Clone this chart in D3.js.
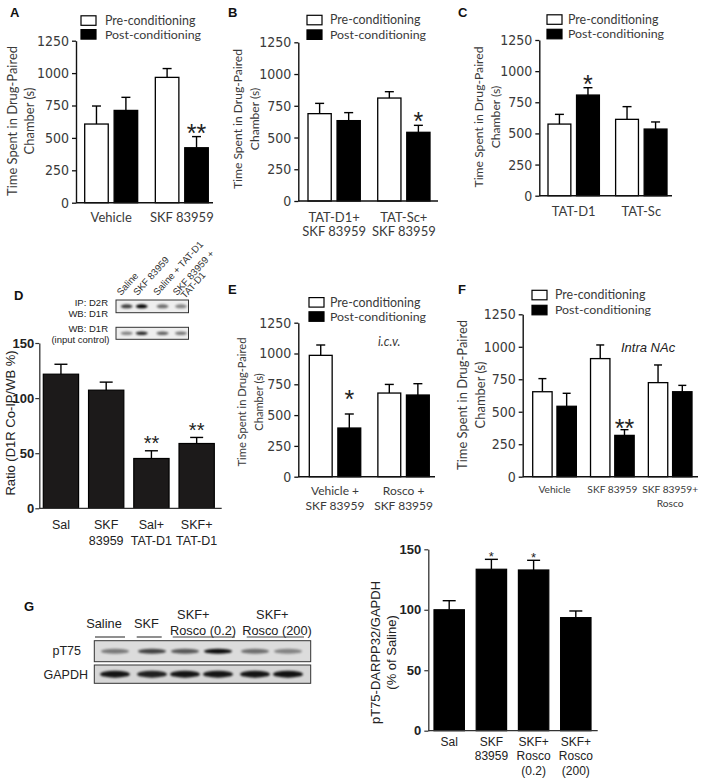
<!DOCTYPE html>
<html><head><meta charset="utf-8">
<script src="https://cdn.jsdelivr.net/npm/d3@7"></script>
<style>body{margin:0;background:#fff}svg{display:block}</style>
</head><body>
<svg id="c" width="708" height="783"></svg>
<script>
// ---------------- DATA ----------------
const seriesNames = ["Pre-conditioning", "Post-conditioning"];
const timeTicks = [0, 250, 500, 750, 1000, 1250];
const pctTicks = [0, 50, 100, 150];

// Panel A
const catsA = [["Vehicle"], ["SKF 83959"]];
const preA = [607, 967];
const preErrA = [139, 68];
const postA = [712, 424];
const postErrA = [101, 86];
const sigPreA = ["", ""];
const sigPostA = ["", "**"];

// Panel B
const catsB = [["TAT-D1+", "SKF 83959"], ["TAT-Sc+", "SKF 83959"]];
const preB = [688, 811];
const preErrB = [81, 50];
const postB = [633, 541];
const postErrB = [63, 55];
const sigPreB = ["", ""];
const sigPostB = ["", "*"];

// Panel C
const catsC = [["TAT-D1"], ["TAT-Sc"]];
const preC = [575, 613];
const preErrC = [78, 102];
const postC = [808, 535];
const postErrC = [59, 57];
const sigPreC = ["", ""];
const sigPostC = ["*", ""];

// Panel D
const catsD = [["Sal"], ["SKF", "83959"], ["Sal+", "TAT-D1"], ["SKF+", "TAT-D1"]];
const valD = [121.7, 107.2, 45.2, 58.8];
const errD = [9, 7.3, 7, 5.5];
const sigD = ["", "", "**", "**"];
const laneLabelsD = [["Saline"], ["SKF 83959"], ["Saline + TAT-D1"], ["SKF 83959 +", "TAT-D1"]];
const bandsD1 = [0.75, 1.0, 0.55, 0.45];
const bandsD2 = [0.45, 0.85, 0.6, 0.5];

// Panel E
const catsE = [["Vehicle +", "SKF 83959"], ["Rosco +", "SKF 83959"]];
const preE = [985, 679];
const preErrE = [84, 70];
const postE = [395, 663];
const postErrE = [114, 92];
const sigPreE = ["", ""];
const sigPostE = ["*", ""];

// Panel F
const catsF = [["Vehicle"], ["SKF 83959"], ["SKF 83959+", "Rosco"]];
const preF = [654, 909, 724];
const preErrF = [101, 105, 136];
const postF = [542, 318, 654];
const postErrF = [100, 44, 49];
const sigPreF = ["", "", ""];
const sigPostF = ["", "**", ""];

// Panel G
const catsG = [["Sal"], ["SKF", "83959"], ["SKF+", "Rosco", "(0.2)"], ["SKF+", "Rosco", "(200)"]];
const valG = [100, 133.5, 132.9, 93.5];
const errG = [7.5, 8.2, 8, 5.5];
const sigG = ["", "*", "*", ""];
const bandsG1 = [0.45, 0.7, 0.6, 0.95, 0.5, 0.4];
const bandsG2 = [0.9, 0.85, 0.9, 0.9, 0.9, 0.92];

// ---------------- STYLE ----------------
const fCal = "Lato, 'Open Sans', sans-serif";
const fNarrow = "'Liberation Sans Narrow', 'DejaVu Sans Condensed', sans-serif";
const fArial = "'Liberation Sans', Arial, sans-serif";
const txtGray = "#3a3a3a";

const svg = d3.select("#c");
const defs = svg.append("defs");
defs.append("filter").attr("id", "blur").attr("x", "-50%").attr("y", "-100%").attr("width", "200%").attr("height", "300%")
  .append("feGaussianBlur").attr("stdDeviation", 1.1);

function fit(sel, target) {
  const n = sel.node();
  const fs = parseFloat(sel.attr("font-size"));
  const w = n.getComputedTextLength();
  if (w > 0) sel.attr("font-size", (fs * target / w).toFixed(2));
  return sel;
}

function letter(x, y, t) {
  svg.append("text").attr("x", x).attr("y", y).attr("font-family", fArial).attr("font-weight", "bold")
    .attr("font-size", 13).attr("fill", "#111").text(t);
}

function legend(bx, y1, y2, tx) {
  const g = svg.append("g");
  [y1, y2].forEach((yy, i) => {
    g.append("rect").attr("x", bx).attr("y", yy - 4.7).attr("width", 15).attr("height", 9.5)
      .attr("fill", i === 0 ? "#fff" : "#000").attr("stroke", "#000").attr("stroke-width", 1.2);
    const t = g.append("text").attr("x", tx).attr("y", yy + 4.4).attr("font-family", fCal)
      .attr("font-size", 13).attr("fill", txtGray).text(seriesNames[i]);
    fit(t, i === 0 ? 90.5 : 96);
  });
}

function yTitle(x1, x2, cy, lines, target, font, size, color) {
  const xs = [x1, x2];
  let fs = size;
  lines.forEach((l, i) => {
    const t = svg.append("text").attr("transform", `translate(${xs[i]},${cy}) rotate(-90)`)
      .attr("text-anchor", "middle").attr("dy", "0.36em").attr("font-family", font)
      .attr("font-size", fs).attr("fill", color).text(l);
    if (target && i === 0) { fit(t, target); fs = +t.attr("font-size"); }
  });
}

function groupedPanel(p) {
  const g = svg.append("g");
  const y = d3.scaleLinear().domain([0, 1250]).range([p.yZero, p.yTop]);
  const x0 = d3.scaleBand().domain(p.cats.map((c, i) => i)).range([p.barStart, p.barEnd]).paddingInner(p.gPad);
  const x1 = d3.scaleBand().domain(["pre", "post"]).range([0, x0.bandwidth()]).paddingInner(p.sPad);
  const rows = p.cats.flatMap((c, i) => [
    { k: "pre", i, v: p.pre[i], e: p.preErr[i], s: p.sigPre[i] },
    { k: "post", i, v: p.post[i], e: p.postErr[i], s: p.sigPost[i] }]);
  const cx = d => x0(d.i) + x1(d.k) + x1.bandwidth() / 2;

  g.selectAll("line.eb").data(rows).join("line")
    .attr("x1", cx).attr("x2", cx).attr("y1", d => y(d.v)).attr("y2", d => y(d.v + d.e))
    .attr("stroke", "#000").attr("stroke-width", 1.4);
  g.selectAll("line.cap").data(rows).join("line")
    .attr("x1", d => cx(d) - p.cap / 2).attr("x2", d => cx(d) + p.cap / 2)
    .attr("y1", d => y(d.v + d.e)).attr("y2", d => y(d.v + d.e))
    .attr("stroke", "#000").attr("stroke-width", 1.4);
  g.selectAll("rect.bar").data(rows).join("rect")
    .attr("x", d => x0(d.i) + x1(d.k)).attr("width", x1.bandwidth())
    .attr("y", d => y(d.v)).attr("height", d => y(0) - y(d.v))
    .attr("fill", d => d.k === "pre" ? "#fff" : "#000").attr("stroke", "#000").attr("stroke-width", 1.3);
  g.selectAll("text.star").data(rows.filter(d => d.s)).join("text")
    .attr("x", cx).attr("y", d => y(d.v + d.e) - p.starOff + 0.58 * p.starSize)
    .attr("text-anchor", "middle").attr("font-family", fArial).attr("font-size", p.starSize)
    .attr("fill", "#222").text(d => d.s);

  const ax = g.append("g").attr("transform", `translate(${p.axisX},0)`)
    .call(d3.axisLeft(y).tickValues(timeTicks).tickFormat(d3.format("d")).tickSize(4).tickPadding(3).tickSizeOuter(0));
  ax.select(".domain").attr("stroke", "#111").attr("stroke-width", 1.4);
  ax.selectAll(".tick line").attr("stroke", "#111").attr("stroke-width", 1.3);
  ax.selectAll(".tick text").attr("font-family", fNarrow).attr("font-size", 14).attr("fill", txtGray);
  g.append("line").attr("x1", p.axisX).attr("x2", p.axisEnd).attr("y1", y(0)).attr("y2", y(0))
    .attr("stroke", "#111").attr("stroke-width", 1.4);
  p.cats.forEach((lines, i) => {
    lines.forEach((l, j) => {
      g.append("text").attr("x", x0(i) + x0.bandwidth() / 2).attr("y", p.labY + j * p.labDy)
        .attr("text-anchor", "middle").attr("font-family", fCal).attr("font-size", p.labSize)
        .attr("fill", txtGray).text(l);
    });
  });
  return { y, x0 };
}

function singlePanel(p) {
  const g = svg.append("g");
  const y = d3.scaleLinear().domain([0, 150]).range([p.yZero, p.yTop]);
  const x = d3.scaleBand().domain(p.cats.map((c, i) => i)).range([p.barStart, p.barEnd]).paddingInner(p.gPad);
  const rows = p.vals.map((v, i) => ({ i, v, e: p.errs[i], s: p.sig[i] }));
  const cx = d => x(d.i) + x.bandwidth() / 2;
  g.selectAll("line.eb").data(rows).join("line")
    .attr("x1", cx).attr("x2", cx).attr("y1", d => y(d.v)).attr("y2", d => y(d.v + d.e))
    .attr("stroke", "#000").attr("stroke-width", 1.4);
  g.selectAll("line.cap").data(rows).join("line")
    .attr("x1", d => cx(d) - p.cap / 2).attr("x2", d => cx(d) + p.cap / 2)
    .attr("y1", d => y(d.v + d.e)).attr("y2", d => y(d.v + d.e))
    .attr("stroke", "#000").attr("stroke-width", 1.4);
  g.selectAll("rect.bar").data(rows).join("rect")
    .attr("x", d => x(d.i)).attr("width", x.bandwidth())
    .attr("y", d => y(d.v)).attr("height", d => y(0) - y(d.v))
    .attr("fill", p.fill).attr("stroke", "#000").attr("stroke-width", 1.2);
  g.selectAll("text.star").data(rows.filter(d => d.s)).join("text")
    .attr("x", cx).attr("y", d => y(d.v + d.e) - p.starOff + 0.58 * p.starSize)
    .attr("text-anchor", "middle").attr("font-family", fArial).attr("font-size", p.starSize)
    .attr("fill", "#222").text(d => d.s);
  const ax = g.append("g").attr("transform", `translate(${p.axisX},0)`)
    .call(d3.axisLeft(y).tickValues(pctTicks).tickSize(4).tickPadding(p.tickPad).tickSizeOuter(0));
  ax.select(".domain").attr("stroke", "#333").attr("stroke-width", 1.3);
  ax.selectAll(".tick line").attr("stroke", "#333").attr("stroke-width", 1.2);
  ax.selectAll(".tick text").attr("font-family", fArial).attr("font-weight", "bold")
    .attr("font-size", 13).attr("fill", "#222");
  g.append("line").attr("x1", p.axisX).attr("x2", p.axisEnd).attr("y1", y(0)).attr("y2", y(0))
    .attr("stroke", "#333").attr("stroke-width", 1.3);
  p.cats.forEach((lines, i) => {
    lines.forEach((l, j) => {
      g.append("text").attr("x", x(i) + x.bandwidth() / 2).attr("y", p.labY + j * p.labDy)
        .attr("text-anchor", "middle").attr("font-family", fArial).attr("font-size", p.labSize)
        .attr("fill", "#222").text(l);
    });
  });
}

function blot(x0, y0, w, h, centers, bw, intens, bh, bg) {
  const g = svg.append("g");
  g.append("rect").attr("x", x0).attr("y", y0).attr("width", w).attr("height", h)
    .attr("fill", bg).attr("stroke", "#333").attr("stroke-width", 1);
  g.selectAll("ellipse").data(intens).join("ellipse")
    .attr("cx", (d, i) => centers[i]).attr("cy", y0 + h / 2)
    .attr("rx", bw / 2).attr("ry", bh / 2)
    .attr("fill", "#000").attr("opacity", d => d).attr("filter", "url(#blur)");
}

// ---------------- PANELS A, B, C ----------------
letter(10, 17, "A");
legend(81, 20.5, 34.3, 105);
yTitle(12.5, 29, 121, ["Time Spent in Drug-Paired", "Chamber (s)"], 150, fCal, 12.5, txtGray);
groupedPanel({ cats: catsA, pre: preA, preErr: preErrA, post: postA, postErr: postErrA, sigPre: sigPreA, sigPost: sigPostA,
  axisX: 76, axisEnd: 213, yTop: 40.7, yZero: 202.7, barStart: 84.7, barEnd: 208.3, gPad: 0.25, sPad: 0.2,
  cap: 9, starOff: 9.5, starSize: 25, labY: 222, labDy: 14, labSize: 13 });

letter(228, 17, "B");
legend(307, 20, 34.6, 330);
yTitle(237.5, 255, 119, ["Time Spent in Drug-Paired", "Chamber (s)"], 140, fCal, 12, txtGray);
groupedPanel({ cats: catsB, pre: preB, preErr: preErrB, post: postB, postErr: postErrB, sigPre: sigPreB, sigPost: sigPostB,
  axisX: 298.3, axisEnd: 438, yTop: 42.3, yZero: 201, barStart: 308, barEnd: 430, gPad: 0.25, sPad: 0.2,
  cap: 9, starOff: 10, starSize: 25, labY: 221.5, labDy: 14.5, labSize: 13 });

letter(458, 17, "C");
legend(547, 19.5, 34, 568);
yTitle(478.5, 496, 117, ["Time Spent in Drug-Paired", "Chamber (s)"], 141, fCal, 12, txtGray);
groupedPanel({ cats: catsC, pre: preC, preErr: preErrC, post: postC, postErr: postErrC, sigPre: sigPreC, sigPost: sigPostC,
  axisX: 539.3, axisEnd: 672, yTop: 40, yZero: 195.7, barStart: 548, barEnd: 667, gPad: 0.24, sPad: 0.2,
  cap: 9, starOff: 9.5, starSize: 25, labY: 215.5, labDy: 14, labSize: 13 });

// ---------------- PANEL D ----------------
letter(14, 300, "D");
blot(116, 300, 72.5, 12.7, [126.7, 141.7, 162.5, 181], 12, bandsD1, 4, "#eeeeee");
blot(116, 327.3, 72.5, 12, [126.7, 141.7, 162.5, 181], 12, bandsD2, 3.6, "#eeeeee");
[["IP: D2R", 306], ["WB: D1R", 316.5], ["WB: D1R", 332], ["(input control)", 343]].forEach(([t, yy], i) => {
  svg.append("text").attr("x", i === 3 ? 109.5 : 108).attr("y", yy).attr("text-anchor", "end")
    .attr("font-family", fArial).attr("font-size", 9.5).attr("fill", "#222").text(t);
});
const laneX = [121, 137.5, 157.5, 177];
laneLabelsD.forEach((lines, i) => {
  lines.forEach((l, j) => {
    svg.append("text").attr("transform", `translate(${laneX[i] + j * 8},${296 + j * 3}) rotate(-48)`)
      .attr("font-family", fArial).attr("font-size", 9.6).attr("fill", "#333").text(l);
  });
});
yTitle(10, null, 423, ["Ratio (D1R Co-IP/WB %)"], 0, fArial, 13, "#222");
singlePanel({ cats: catsD, vals: valD, errs: errD, sig: sigD, fill: "#1c1a1a",
  axisX: 39.3, axisEnd: 221.7, yTop: 343, yZero: 508.3, barStart: 43.3, barEnd: 214.3, gPad: 0.22,
  cap: 13, starOff: 12.5, starSize: 20, tickPad: 1, labY: 528.5, labDy: 16, labSize: 12.5 });

// ---------------- PANELS E, F ----------------
letter(228, 294, "E");
legend(309, 302.3, 316.5, 330);
yTitle(241.7, 259.3, 402, ["Time Spent in Drug-Paired", "Chamber (s)"], 129, fCal, 11, txtGray);
svg.append("text").attr("x", 378).attr("y", 345.5).attr("font-family", fCal).attr("font-style", "italic")
  .attr("font-size", 12.5).attr("fill", txtGray).text("i.c.v.");
groupedPanel({ cats: catsE, pre: preE, preErr: preErrE, post: postE, postErr: postErrE, sigPre: sigPreE, sigPost: sigPostE,
  axisX: 298.3, axisEnd: 435, yTop: 322.7, yZero: 476.7, barStart: 309.3, barEnd: 429.3, gPad: 0.25, sPad: 0.2,
  cap: 9, starOff: 20, starSize: 25, labY: 495, labDy: 14.5, labSize: 12 });

letter(458, 294, "F");
legend(532, 295, 310, 555);
yTitle(462, 480, 395, ["Time Spent in Drug-Paired", "Chamber (s)"], 150, fCal, 12, txtGray);
svg.append("text").attr("x", 621).attr("y", 351.5).attr("font-family", fArial).attr("font-style", "italic")
  .attr("font-size", 13).attr("fill", "#222").text("Intra NAc");
groupedPanel({ cats: catsF, pre: preF, preErr: preErrF, post: postF, postErr: postErrF, sigPre: sigPreF, sigPost: sigPostF,
  axisX: 522.7, axisEnd: 698, yTop: 314.3, yZero: 476.7, barStart: 532.7, barEnd: 692, gPad: 0.245, sPad: 0.2,
  cap: 8, starOff: 7, starSize: 25, labY: 493, labDy: 14, labSize: 10.2 });

// ---------------- PANEL G ----------------
letter(24, 611, "G");
const gHead = [["Saline", 104, 627.8], ["SKF", 146.5, 627.8], ["SKF+", 193.3, 618.5], ["Rosco (0.2)", 203, 634.5],
  ["SKF+", 272.3, 618.5], ["Rosco (200)", 277, 634.5]];
gHead.forEach(([t, x, y]) => svg.append("text").attr("x", x).attr("y", y).attr("text-anchor", "middle")
  .attr("font-family", fArial).attr("font-size", 12.8).attr("fill", "#222").text(t));
[[95, 125], [136.7, 161.7], [172.7, 235], [246.7, 304]].forEach(([a, b]) =>
  svg.append("line").attr("x1", a).attr("x2", b).attr("y1", 637).attr("y2", 637).attr("stroke", "#444").attr("stroke-width", 1.2));
const gLanes = [115, 152, 185, 218, 255, 288];
blot(94.3, 640.7, 216.4, 21, gLanes, 28, bandsG1, 5, "#dcdcdc");
blot(94.3, 665, 216.4, 18.3, gLanes, 30, bandsG2, 7, "#d6d6d6");
svg.append("text").attr("x", 81).attr("y", 654.5).attr("text-anchor", "end").attr("font-family", fArial)
  .attr("font-size", 12.5).attr("fill", "#222").text("pT75");
svg.append("text").attr("x", 88).attr("y", 678.5).attr("text-anchor", "end").attr("font-family", fArial)
  .attr("font-size", 12.5).attr("fill", "#222").text("GAPDH");

yTitle(375, 391.7, 652.5, ["pT75-DARPP32/GAPDH", "(% of Saline)"], 0, fArial, 13, "#222");
singlePanel({ cats: catsG, vals: valG, errs: errG, sig: sigG, fill: "#000",
  axisX: 428.3, axisEnd: 597.7, yTop: 549.3, yZero: 730.7, barStart: 434, barEnd: 591, gPad: 0.28,
  cap: 13, starOff: 6, starSize: 13, tickPad: 3, labY: 745.5, labDy: 14.5, labSize: 12 });
</script>
</body></html>
